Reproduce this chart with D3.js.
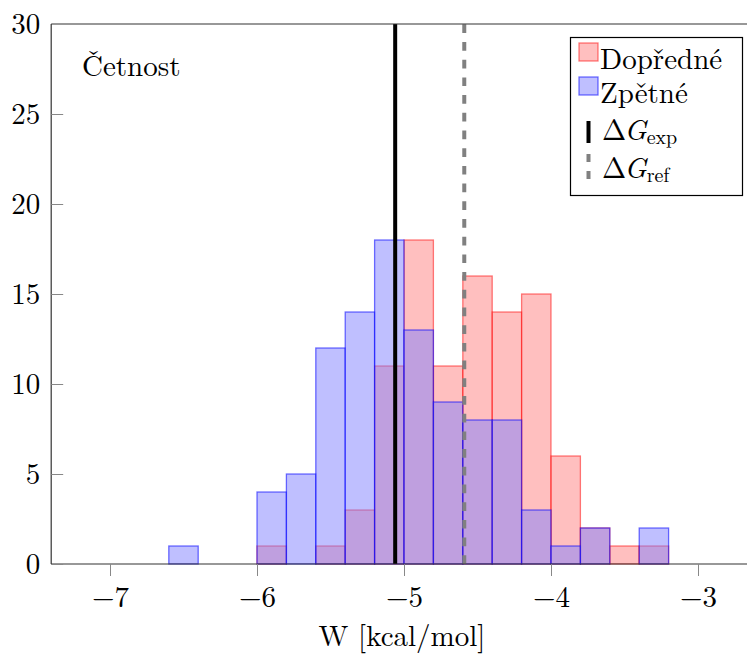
<!DOCTYPE html>
<html>
<head>
<meta charset="utf-8">
<script src="https://cdn.jsdelivr.net/npm/d3@7"></script>
<style>
  html, body { margin: 0; padding: 0; background: #fff; }
</style>
</head>
<body>
<svg id="chart" width="747" height="656"></svg>
<script>
// ---- data ----
const binStart = [-7.0, -6.8, -6.6, -6.4, -6.2, -6.0, -5.8, -5.6, -5.4, -5.2,
                  -5.0, -4.8, -4.6, -4.4, -4.2, -4.0, -3.8, -3.6, -3.4, -3.2];
const binWidth = 0.2;
const forward  = [0, 0, 0, 0, 0, 1, 0, 1, 3, 11, 18, 11, 16, 14, 15, 6, 2, 1, 1, 0];
const backward = [0, 0, 1, 0, 0, 4, 5, 12, 14, 18, 13, 9, 8, 8, 3, 1, 2, 0, 2, 0];
const dGexp = -5.06;
const dGref = -4.59;
const xTicks = [-7, -6, -5, -4, -3];
const yTicks = [0, 5, 10, 15, 20, 25, 30];
const seriesNames = ["Dopředné", "Zpětné"];
const xLabel = "W [kcal/mol]";
const yLabel = "Četnost";

// ---- layout ----
const FONT = '"Latin Modern Roman", "Liberation Serif", serif';
const fs = 29;
const svg = d3.select("#chart");
const x = d3.scaleLinear().domain([-7.4, -2.6]).range([51.2, 756.8]);
const y = d3.scaleLinear().domain([0, 30]).range([564, 24]);

// bars
function drawBars(vals, fill, stroke) {
  svg.append("g").selectAll("rect").data(vals).join("rect")
    .attr("x", (d, i) => x(binStart[i]))
    .attr("width", (d, i) => x(binStart[i] + binWidth) - x(binStart[i]))
    .attr("y", d => y(d))
    .attr("height", d => y(0) - y(d))
    .attr("fill", fill)
    .attr("stroke", stroke)
    .attr("stroke-width", 1.3);
}
drawBars(forward, "rgba(255,128,128,0.5)", "rgba(255,0,0,0.5)");
drawBars(backward, "rgba(128,128,255,0.5)", "rgba(0,0,255,0.55)");

// vertical reference lines
svg.append("line")
  .attr("x1", x(dGexp)).attr("x2", x(dGexp))
  .attr("y1", y(0)).attr("y2", y(30))
  .attr("stroke", "#000").attr("stroke-width", 4);
svg.append("line")
  .attr("x1", x(dGref)).attr("x2", x(dGref))
  .attr("y1", y(0)).attr("y2", y(30))
  .attr("stroke", "#808080").attr("stroke-width", 4)
  .attr("stroke-dasharray", "8.7 9");

// axes frame
const frame = svg.append("g").attr("stroke", "#333").attr("stroke-width", 1.2).attr("fill", "none");
frame.append("line").attr("x1", x(-7.4)).attr("x2", x(-2.6)).attr("y1", y(0)).attr("y2", y(0));
frame.append("line").attr("x1", x(-7.4)).attr("x2", x(-2.6)).attr("y1", y(30)).attr("y2", y(30));
frame.append("line").attr("x1", x(-7.4)).attr("x2", x(-7.4)).attr("y1", y(0)).attr("y2", y(30));

// x axis ticks & labels
const xAxis = d3.axisBottom(x).tickValues(xTicks).tickSize(12).tickPadding(10)
  .tickFormat(d => d3.format("")(d).replace("-", "\u2212"));
const gx = svg.append("g").attr("transform", `translate(0,${y(0)})`).call(xAxis);
gx.select(".domain").remove();
gx.selectAll(".tick line").attr("stroke", "#888").attr("stroke-width", 1);
gx.selectAll(".tick text").attr("fill", "#000")
  .style("font-family", FONT).style("font-size", fs + "px");

// y axis ticks & labels
const yAxis = d3.axisLeft(y).tickValues(yTicks).tickSize(-12).tickPadding(11);
const gy = svg.append("g").attr("transform", `translate(${x(-7.4)},0)`).call(yAxis);
gy.select(".domain").remove();
gy.selectAll(".tick line").attr("stroke", "#888").attr("stroke-width", 1)
  .filter(d => d === 30).remove();
gy.selectAll(".tick text").attr("fill", "#000")
  .style("font-family", FONT).style("font-size", fs + "px");

// axis label
svg.append("text").attr("x", 402).attr("y", 646).attr("text-anchor", "middle")
  .style("font-family", FONT).style("font-size", fs + "px").text(xLabel);

// y "label" inside plot
svg.append("text").attr("x", 82).attr("y", 76)
  .style("font-family", FONT).style("font-size", fs + "px").text(yLabel);

// legend
const lg = svg.append("g");
lg.append("rect").attr("x", 570.5).attr("y", 37.5).attr("width", 172).attr("height", 158)
  .attr("fill", "#fff").attr("stroke", "#000").attr("stroke-width", 1.2);
const patchFill = ["rgba(255,128,128,0.5)", "rgba(128,128,255,0.5)"];
const patchStroke = ["rgba(255,0,0,0.5)", "rgba(0,0,255,0.55)"];
const rowY = [69, 103, 140, 178];
seriesNames.forEach((n, i) => {
  lg.append("rect").attr("x", 579).attr("y", rowY[i] - 26).attr("width", 19).attr("height", 18)
    .attr("fill", patchFill[i]).attr("stroke", patchStroke[i]).attr("stroke-width", 1.3);
  lg.append("text").attr("x", 600).attr("y", rowY[i])
    .style("font-family", FONT).style("font-size", fs + "px").text(n);
});
lg.append("line").attr("x1", 588.5).attr("x2", 588.5).attr("y1", rowY[2] - 19).attr("y2", rowY[2] + 3)
  .attr("stroke", "#000").attr("stroke-width", 4);
lg.append("line").attr("x1", 588.5).attr("x2", 588.5).attr("y1", rowY[3] - 24).attr("y2", rowY[3] + 3)
  .attr("stroke", "#808080").attr("stroke-width", 4).attr("stroke-dasharray", "8 9");
function dgText(yy, sub) {
  const t = lg.append("text").attr("x", 602).attr("y", yy)
    .style("font-family", FONT).style("font-size", fs + "px");
  t.append("tspan").text("\u0394");
  t.append("tspan").attr("dx", -2).style("font-style", "italic").text("G");
  t.append("tspan").style("font-size", "20px").attr("dy", 4).text(sub);
}
dgText(rowY[2], "exp");
dgText(rowY[3], "ref");
</script>
</body>
</html>
